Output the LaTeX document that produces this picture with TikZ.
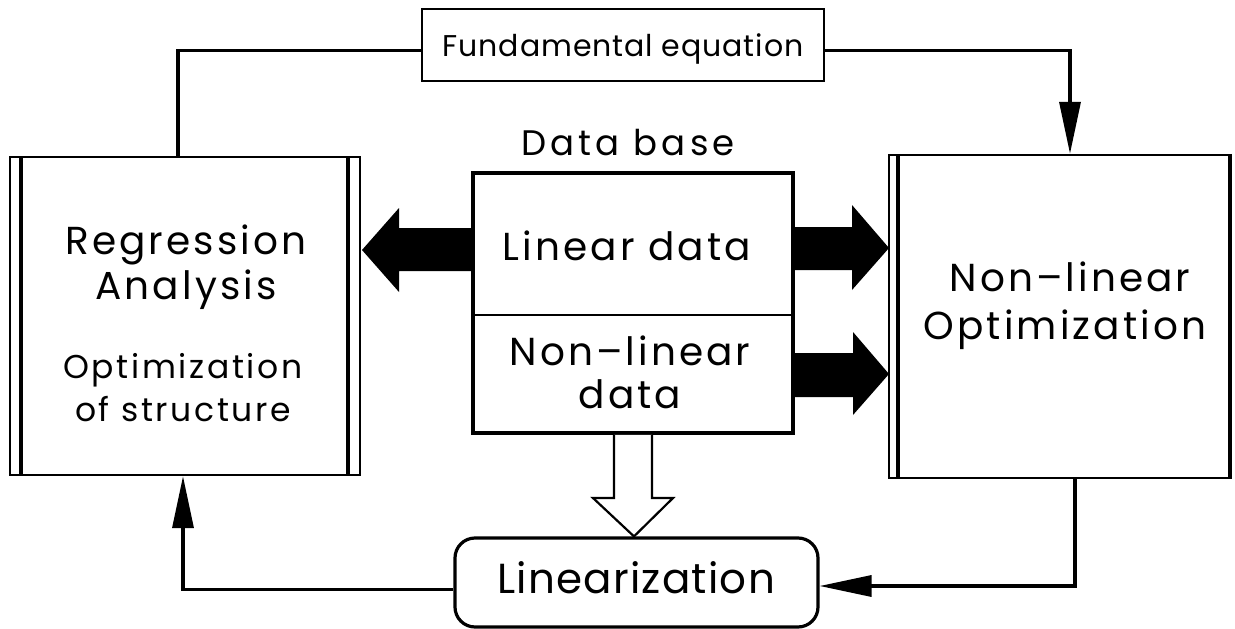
\documentclass[tikz,border=0pt]{standalone}
\usepackage{fontspec}
\setmainfont{Poppins}
\newfontfamily\widefont{Poppins}[LetterSpace=8]
\newfontfamily\titlefont{Poppins}[LetterSpace=12]
\newfontfamily\slightfont{Poppins}[LetterSpace=3]
\usetikzlibrary{arrows.meta,calc}

\tikzset{
  frame/.style={draw, line width=3.2pt, inner sep=0pt},
  thinframe/.style={draw, line width=2.2pt, inner sep=0pt},
  conn/.style={line width=3.4pt},
  flowto/.style={conn, -{Triangle[length=52pt,width=21pt]}},
  txt/.style={inner sep=0pt, anchor=base},
  big/.style={txt, font=\widefont\fontsize{39}{39}\selectfont},
  sub/.style={txt, font=\widefont\fontsize{33}{33}\selectfont},
  title/.style={txt, font=\titlefont\fontsize{35.5}{35.5}\selectfont},
  small/.style={txt, font=\slightfont\fontsize{30}{30}\selectfont},
  label/.style={txt, font=\slightfont\fontsize{42}{42}\selectfont},
}

\begin{document}
\begin{tikzpicture}[x=1pt, y=-1pt]
\useasboundingbox (0,0) rectangle (1235,629);

% boxes
\node[frame, line width=2.4pt, minimum width=350pt, minimum height=318pt] (reg) at (185,316) {};
\node[frame, line width=2.4pt, minimum width=340pt, minimum height=323pt] (opt) at (1059,316.5) {};
\node[frame, line width=3.6pt, minimum width=320pt, minimum height=260pt] (db) at (633,303) {};
\node[thinframe, minimum width=402pt, minimum height=72pt] (fe) at (623,45) {};
\node[frame, rounded corners=20pt, minimum width=363pt, minimum height=89pt] (lin) at (636.5,582.5) {};

% heavier edges of the boxes
\draw[line width=4pt] (21,157) -- (21,475);
\draw[line width=4pt] (348,157) -- (348,475);
\draw[line width=4pt] (898,155) -- (898,478);
\draw[line width=3.6pt] (opt.north east) -- (opt.south east);
% divider of the data base
\draw[line width=1.8pt] (db.west |- 0,315) -- (db.east |- 0,315);

% texts
\node[title] (dbtitle) at (628,155) {Data base};
\node[big] (lind) at (627,260) {Linear data};
\node[big] (nld1) at (630,365) {Non–linear};
\node[big] (nld2) at (630,408) {data};
\node[big] (rg1) at (186,254) {Regression};
\node[big] (rg2) at (186,299) {Analysis};
\node[sub] (rg3) at (183,378) {Optimization};
\node[sub] (rg4) at (183,421) {of structure};
\node[big] (op1) at (1070,291) {Non–linear};
\node[big] (op2) at (1065,339) {Optimization};
\node[small] (fet) at (623,56) {Fundamental equation};
\node[label] (lint) at (636,593) {Linearization};

% solid block arrows out of the data base
\fill (db.west |- 0,228) -- (399,228) -- (399,208) -- (362,250) -- (399,292) -- (399,271) -- (db.west |- 0,271) -- cycle;
\fill (db.east |- 0,227) -- (852,227) -- (852,205) -- (889,248) -- (852,290) -- (852,270) -- (db.east |- 0,270) -- cycle;
\fill (db.east |- 0,353) -- (853,353) -- (853,332) -- (889,374) -- (853,415) -- (853,397) -- (db.east |- 0,397) -- cycle;

% hollow arrow down to the linearization
\draw[line width=2.2pt, fill=white, line join=miter]
  (db.south -| 614,0) -- (614,498) -- (593,498) -- (lin.north -| 634,0) -- (673,498) -- (652,498) -- (db.south -| 652,0);

% feedback loop
\draw[conn] ([xshift=-7pt]reg.north) |- ([yshift=-5.5pt]fe.west);
\draw[flowto] ([yshift=-5.5pt]fe.east) -| ([xshift=11pt]opt.north);
\draw[flowto] ([xshift=16pt]opt.south) |- ([yshift=-3.5pt]lin.east);
\draw[flowto] ([yshift=-7pt]lin.west) -| ([xshift=-2pt]reg.south);
\end{tikzpicture}
\end{document}
